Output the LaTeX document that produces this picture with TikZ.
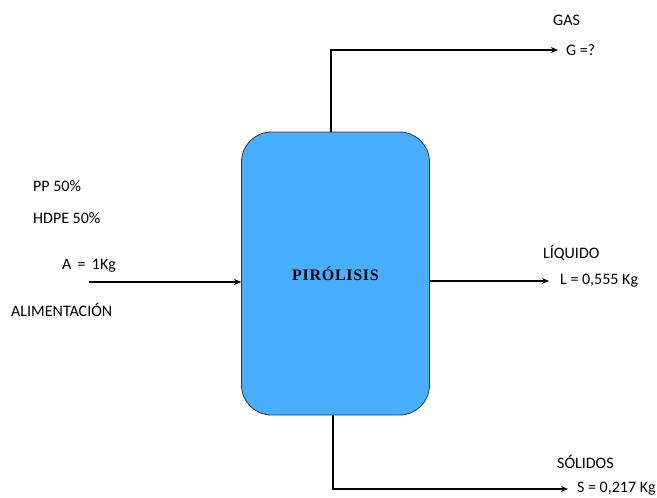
\documentclass[tikz,border=0pt]{standalone}
\usepackage{fontspec}
\setmainfont{Carlito}
\newfontfamily\boxfont{Liberation Serif}
\usetikzlibrary{arrows.meta}
\definecolor{reactor}{RGB}{74,174,255}
\newcommand{\lgap}{\kern0.7pt}
\begin{document}
\begin{tikzpicture}[x=1pt,y=-1pt,
  flow/.style={line width=2pt,-{Stealth[length=7pt,width=6pt]}},
  lbl/.style={inner sep=0pt,anchor=west,font=\fontsize{16}{18}\selectfont}]
\useasboundingbox (0,0) rectangle (657,498);
% reactor vessel
\node[draw=black!80,line width=0.8pt,fill=reactor,rounded corners=30pt,
  minimum width=188pt,minimum height=283pt,
  font=\boxfont\bfseries\fontsize{16}{18}\selectfont] (reactor) at (335.5,273.5) {P\lgap I\lgap R\lgap Ó\lgap L\lgap I\lgap S\lgap I\lgap S};
% feed
\coordinate (feed) at (89,282);
\draw[flow] (feed) -- (feed -| reactor.west);
\node[lbl] (pp) at (33,186) {PP 50\%};
\node[lbl] (hdpe) at (33,218) {HDPE 50\%};
\node[lbl] (a) at (62,266) {A \,=\, 1Kg};
\node[lbl] (alim) at (11,310) {ALIMENTACIÓN};
% gas outlet
\coordinate (gbend) at (331,50);
\coordinate (gend) at (558,50);
\draw[flow] (gbend |- reactor.north) -- (gbend) -- (gend);
\node[lbl] (gas) at (553,20) {GAS};
\node[lbl] (g) at (566,50) {G =?};
% liquid outlet
\coordinate (lend) at (549,281);
\draw[flow] (lend -| reactor.east) -- (lend);
\node[lbl] (liq) at (543,253) {LÍQUIDO};
\node[lbl] (l) at (560,281) {L = 0,555 Kg};
% solid outlet
\coordinate (sbend) at (333,489);
\coordinate (send) at (568,489);
\draw[flow] (sbend |- reactor.south) -- (sbend) -- (send);
\node[lbl] (sol) at (557,462) {SÓLIDOS};
\node[lbl] (s) at (577,489) {S = 0,217 Kg};
\end{tikzpicture}
\end{document}
